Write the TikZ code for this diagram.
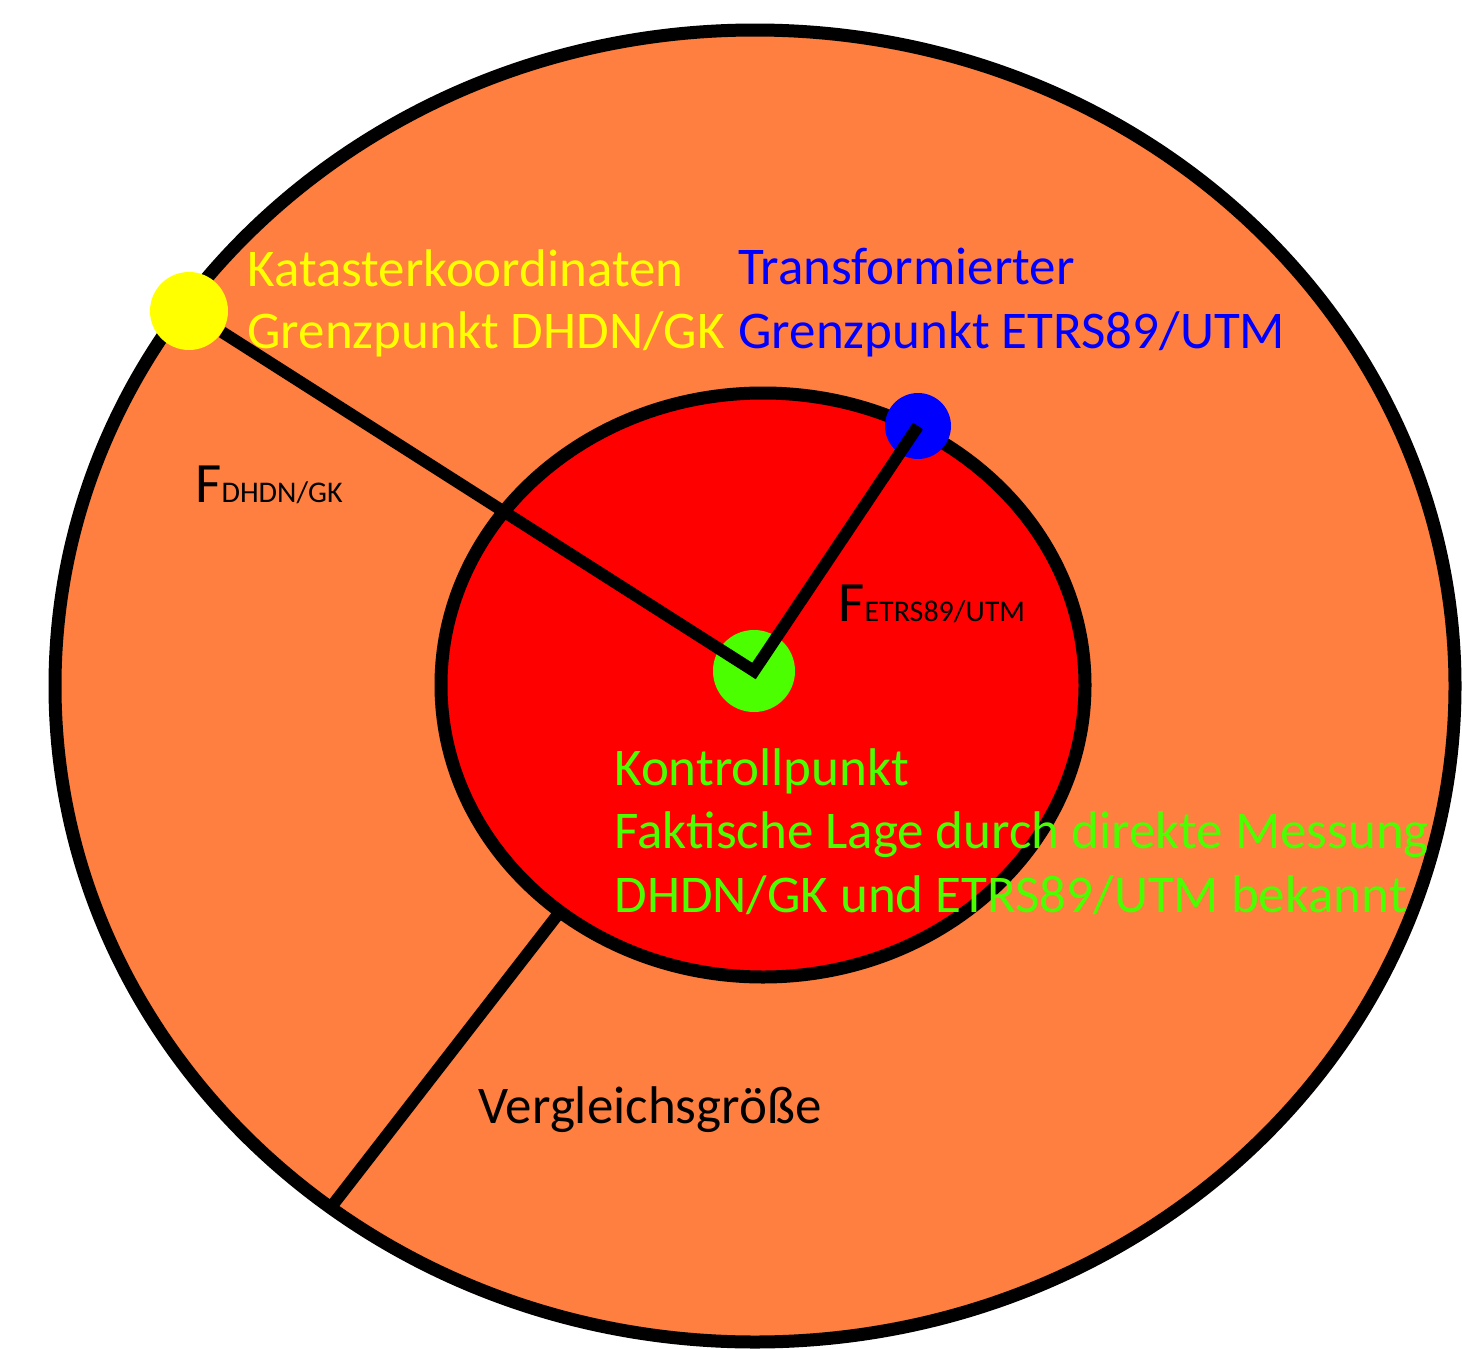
\documentclass[tikz,border=0pt]{standalone}
\usepackage{fontspec}
\setmainfont{Carlito}
\usetikzlibrary{arrows}

\definecolor{ringorange}{RGB}{255,127,64}
\definecolor{corered}{RGB}{255,0,0}
\definecolor{ptyellow}{RGB}{255,255,0}
\definecolor{ptblue}{RGB}{0,0,255}
\definecolor{ptgreen}{RGB}{76,255,0}

\tikzset{
  ring/.style={line width=6.5pt, draw=black},
  arm/.style={line width=6pt, draw=black},
  dot/.style={circle, inner sep=0pt},
  lbl/.style={anchor=base west, inner sep=0pt, font=\fontsize{26.5}{32}\selectfont},
  flbl/.style={anchor=base west, inner sep=0pt, font=\fontsize{28.5}{34}\selectfont}
}

\begin{document}
\begin{tikzpicture}[x=0.5pt, y=-0.5pt]

\useasboundingbox (0, 0) rectangle (1462, 1349);

\draw[ring, fill=ringorange] (755, 686) ellipse [x radius=700, y radius=656];
\draw[ring, fill=corered] (763, 685) ellipse [x radius=322, y radius=292];

\node[dot, fill=ptblue, minimum size=33pt] (trans) at (918, 426) {};
\node[dot, fill=ptgreen, minimum size=41pt] (kontroll) at (754, 671) {};
\node[dot, fill=ptyellow, minimum size=39pt] (kataster) at (189, 311) {};

\draw[arm] (kataster) -- (kontroll.center) -- (trans.center);

\coordinate (cutin) at (559, 913);
\coordinate (cutout) at (328, 1211);
\draw[arm] (cutin) -- (cutout);

\node[lbl, text=ptyellow] (katA) at (247, 286) {Katasterkoordinaten};
\node[lbl, text=ptyellow] (katB) at (247, 348) {Grenzpunkt DHDN/GK};
\node[lbl, text=ptblue] (transA) at (738, 284) {Transformierter};
\node[lbl, text=ptblue] (transB) at (738, 348) {Grenzpunkt ETRS89/UTM};

\node[lbl, text=ptgreen] (kontA) at (614, 785) {Kontrollpunkt};
\node[lbl, text=ptgreen] (kontB) at (614, 848) {Faktische Lage durch direkte Messung};
\node[lbl, text=ptgreen] (kontC) at (614, 912) {DHDN/GK und ETRS89/UTM bekannt};

\node[flbl] (fdhdn) at (195, 502) {F{\fontsize{15}{18}\selectfont DHDN/GK}};
\node[flbl] (fetrs) at (838, 621) {F{\fontsize{15}{18}\selectfont ETRS89/UTM}};

\node[lbl] (vergl) at (478, 1123) {Vergleichsgröße};

\end{tikzpicture}
\end{document}
